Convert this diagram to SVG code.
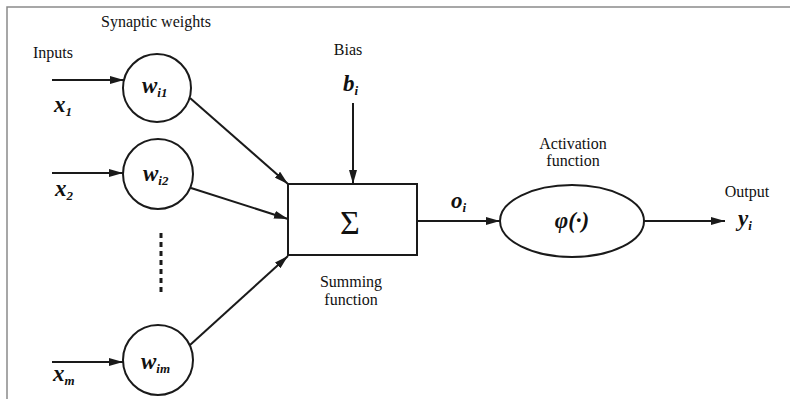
<svg xmlns="http://www.w3.org/2000/svg" width="790" height="399" viewBox="0 0 790 399">
  <defs>
    <marker id="arrow" viewBox="0 0 14 8" refX="14" refY="4" markerWidth="14" markerHeight="8" markerUnits="userSpaceOnUse" orient="auto">
      <path d="M0,0 L14,4 L0,8 Z" fill="#1a1a1a"/>
    </marker>
  </defs>
  <style>
    .frame { fill: none; stroke: #8a8a8a; stroke-width: 1.5; }
    .shape { fill: #fff; stroke: #1a1a1a; stroke-width: 2; }
    .wire { fill: none; stroke: #1a1a1a; stroke-width: 2; marker-end: url(#arrow); }
    .dots { fill: none; stroke: #1a1a1a; stroke-width: 3; stroke-dasharray: 5 4; }
    .cap { font-family: "Liberation Serif", serif; font-size: 16px; fill: #111; }
    .var { font-family: "Liberation Serif", serif; font-size: 23px; font-weight: bold; font-style: italic; fill: #111; }
    .sub { font-size: 13px; }
  </style>
  <rect width="790" height="399" fill="#fff"/>
  <path class="frame" d="M7,399 V7 H790"/>

  <!-- captions -->
  <text class="cap" x="156" y="27" text-anchor="middle">Synaptic weights</text>
  <text class="cap" x="33" y="58">Inputs</text>
  <text class="cap" x="348" y="55" text-anchor="middle">Bias</text>
  <text class="cap" x="351" y="287" text-anchor="middle">Summing</text>
  <text class="cap" x="351" y="305" text-anchor="middle">function</text>
  <text class="cap" x="573" y="149" text-anchor="middle">Activation</text>
  <text class="cap" x="573" y="166" text-anchor="middle">function</text>
  <text class="cap" x="747" y="197" text-anchor="middle">Output</text>

  <!-- connectors -->
  <g id="connectors">
    <line class="wire" x1="52" y1="80" x2="124" y2="80"/>
    <line class="wire" x1="52" y1="173" x2="123" y2="173"/>
    <line class="wire" x1="52" y1="362" x2="123" y2="362"/>
    <line class="wire" x1="190" y1="98" x2="288" y2="184"/>
    <line class="wire" x1="191" y1="188" x2="288" y2="219"/>
    <line class="wire" x1="190" y1="345" x2="288" y2="256"/>
    <line class="wire" x1="353" y1="103" x2="353" y2="184"/>
    <line class="wire" x1="417" y1="221" x2="500" y2="221"/>
    <line class="wire" x1="644" y1="221" x2="725" y2="221"/>
    <line class="dots" x1="161" y1="233" x2="161" y2="296"/>
  </g>

  <!-- input labels -->
  <text class="var" x="54" y="112">x<tspan class="sub" dy="4">1</tspan></text>
  <text class="var" x="55" y="196">x<tspan class="sub" dy="4">2</tspan></text>
  <text class="var" x="53" y="381">x<tspan class="sub" dy="4">m</tspan></text>

  <g id="w1">
    <circle class="shape" cx="157" cy="88" r="34"/>
    <text class="var" x="142" y="93">w<tspan class="sub" dy="4">i1</tspan></text>
  </g>
  <g id="w2">
    <circle class="shape" cx="158" cy="174" r="35"/>
    <text class="var" x="143" y="181">w<tspan class="sub" dy="4">i2</tspan></text>
  </g>
  <g id="wm">
    <circle class="shape" cx="158" cy="360" r="35"/>
    <text class="var" x="141" y="369">w<tspan class="sub" dy="4">im</tspan></text>
  </g>

  <g id="bias">
    <text class="var" x="343" y="91">b<tspan class="sub" dy="4">i</tspan></text>
  </g>

  <g id="sum">
    <rect class="shape" x="288" y="184" width="129" height="71"/>
    <text x="350" y="234" text-anchor="middle" font-family="Liberation Serif, serif" font-size="34" fill="#111">Σ</text>
  </g>

  <text class="var" x="451" y="208">o<tspan class="sub" dy="4">i</tspan></text>

  <g id="activation">
    <ellipse class="shape" cx="572" cy="221" rx="72" ry="36"/>
    <text class="var" x="572" y="228" text-anchor="middle">φ(·)</text>
  </g>

  <g id="output">
    <text class="var" x="738" y="226">y<tspan class="sub" dy="4">i</tspan></text>
  </g>
</svg>
